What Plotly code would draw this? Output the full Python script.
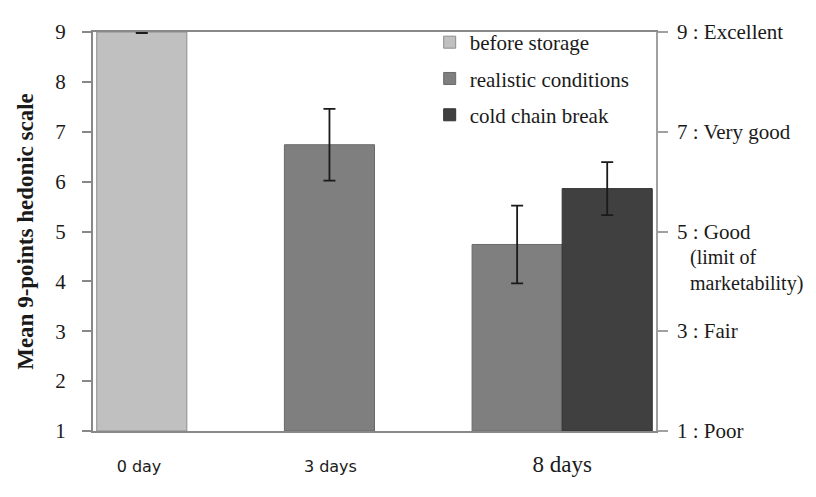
import plotly.graph_objects as go

# ---- data ----
series_names = ["before storage", "realistic conditions", "cold chain break"]
series_colors = ["#c0c0c0", "#7f7f7f", "#404040"]
series_edges = ["#8c8c8c", "#6a6a6a", "#333333"]

# slot positions for bars (layout only) and values
before_x = [0.52]
before_y = [9.0]
before_err = [0.02]

realistic_x = [2.52, 4.52]
realistic_y = [6.74, 4.74]
realistic_err = [0.72, 0.78]

cold_x = [5.48]
cold_y = [5.86]
cold_err = [0.53]

x_tick_vals = [0.49, 2.53, 5.0]
x_tick_labels = ["0 day", "3 days",
                 "<span style='font-family:Liberation Serif;font-size:23px'>8 days</span>"]

y_ticks = [1, 2, 3, 4, 5, 6, 7, 8, 9]
right_tick_vals = [9, 7, 5, 3, 1]
right_tick_labels = ["9 : Excellent", "7 : Very good", "5 : Good", "3 : Fair", "1 : Poor"]
right_extra_label = "(limit of<br>marketability)"

BAR_W = 0.96
SERIF = "Liberation Serif, Times New Roman, serif"
AXIS_GRAY = "#888888"

fig = go.Figure()
for name, xs, ys, errs, col, edge in [
    (series_names[0], before_x, before_y, before_err, series_colors[0], series_edges[0]),
    (series_names[1], realistic_x, realistic_y, realistic_err, series_colors[1], series_edges[1]),
    (series_names[2], cold_x, cold_y, cold_err, series_colors[2], series_edges[2]),
]:
    fig.add_trace(go.Bar(
        x=xs, y=[v - 1 for v in ys], base=1, width=BAR_W, name=name,
        legendgroup=name,
        marker=dict(color=col, line=dict(color=edge, width=1)),
        error_y=dict(type="data", array=errs, visible=True, color="#1a1a1a",
                     thickness=1.8, width=6),
    ))

# invisible trace for secondary axis
fig.add_trace(go.Scatter(x=[0], y=[1], yaxis="y2", mode="markers",
                         marker=dict(opacity=0), showlegend=False, hoverinfo="skip"))

fig.update_layout(
    width=800, height=481,
    margin=dict(l=85, r=152, t=12, b=43),
    paper_bgcolor="white", plot_bgcolor="white",
    font=dict(family=SERIF, color="#1a1a1a", size=17),
    barmode="overlay",
    showlegend=True,
    legend=dict(x=0.598, y=1.025, xanchor="left", yanchor="top",
                bgcolor="rgba(255,255,255,0)", font=dict(family=SERIF, size=21, color="#1a1a1a"),
                tracegroupgap=6, itemwidth=30, traceorder="grouped"),
    xaxis=dict(range=[0, 6], tickvals=x_tick_vals, ticktext=x_tick_labels,
               showline=True, linecolor=AXIS_GRAY, linewidth=2, mirror=True,
               ticks="", showgrid=False, zeroline=False,
               tickfont=dict(family="DejaVu Sans, Verdana, sans-serif", size=16, color="#1a1a1a"),
               ticklabelstandoff=20),
    yaxis=dict(range=[1, 9], tickvals=y_ticks, showline=True, linecolor=AXIS_GRAY, linewidth=2,
               ticks="outside", ticklen=9, tickcolor=AXIS_GRAY, tickwidth=1.5,
               showgrid=False, zeroline=False,
               tickfont=dict(family=SERIF, size=21, color="#1a1a1a"),
               ticklabelstandoff=12,
               title=dict(text="<b>Mean 9-points hedonic scale</b>",
                          font=dict(family=SERIF, size=23, color="#1a1a1a"), standoff=15)),
    yaxis2=dict(range=[1, 9], overlaying="y", side="right", tickvals=right_tick_vals,
                ticktext=[""] * len(right_tick_vals),
                showline=True, linecolor="#a0a0a0", linewidth=2,
                ticks="outside", ticklen=10, tickcolor="#a0a0a0", tickwidth=1.5,
                showgrid=False, zeroline=False),
)

for v, lab in zip(right_tick_vals, right_tick_labels):
    fig.add_annotation(x=1, xref="paper", y=v, yref="y", text=lab, showarrow=False,
                       xanchor="left", yanchor="middle", xshift=19,
                       font=dict(family=SERIF, size=21, color="#1a1a1a"))
fig.add_annotation(x=1, xref="paper", y=5, yref="y", text=right_extra_label, showarrow=False,
                   xanchor="left", yanchor="top", align="left", xshift=32, yshift=-12,
                   font=dict(family=SERIF, size=20, color="#1a1a1a"))

fig.write_html("out.html")
